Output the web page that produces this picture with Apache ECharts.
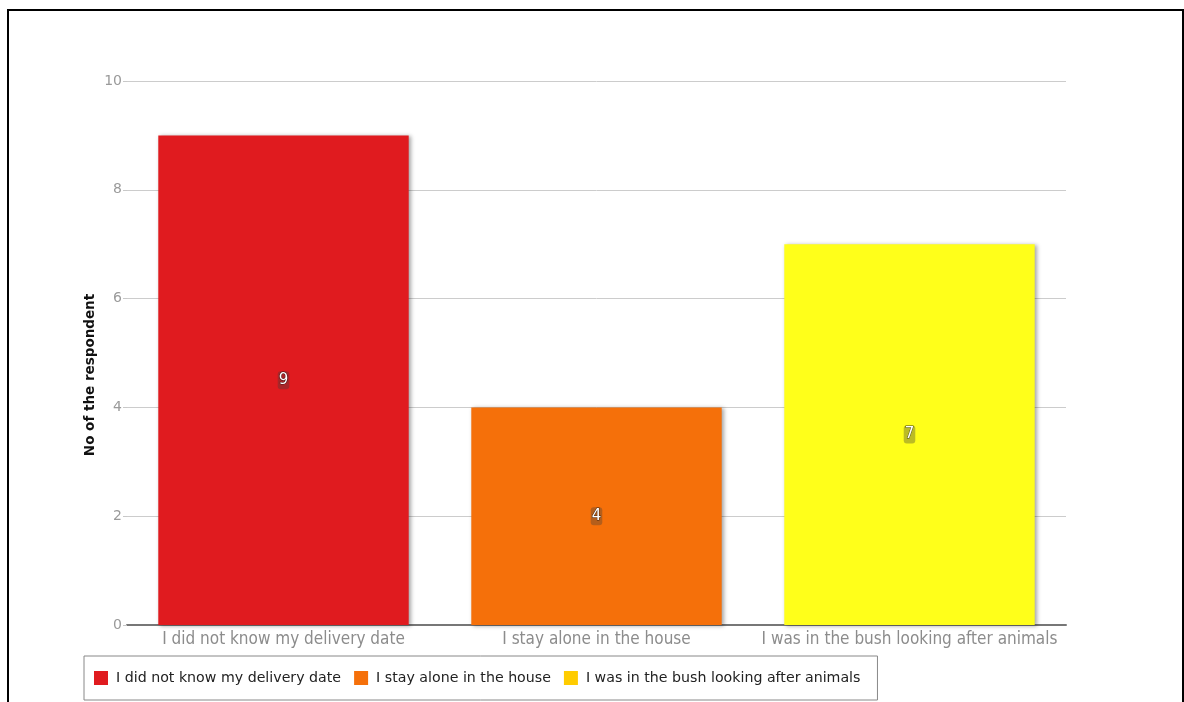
<!DOCTYPE html>
<html>
<head>
<meta charset="utf-8">
<script src="https://cdn.jsdelivr.net/npm/echarts@6/dist/echarts.min.js"></script>
<style>
  html, body { margin: 0; padding: 0; background: #fff; }
  #frame { position: absolute; left: 7px; top: 9px; width: 1177px; height: 720px; border: 2px solid #000; box-sizing: border-box; }
  #chart { position: absolute; left: 0; top: 0; width: 1184px; height: 702px; }
</style>
</head>
<body>
<div id="frame"></div>
<div id="chart"></div>
<script>
const categories = [
  'I did not know my delivery date',
  'I stay alone in the house',
  'I was in the bush looking after animals'
];
const values = [9, 4, 7];
const barColors = ['#e01b1f', '#f5700a', '#ffff1a'];
const legendColors = ['#e01b1f', '#f5700a', '#ffcc00'];
const yTicks = { min: 0, max: 10, interval: 2 };
const yAxisTitle = 'No of the respondent';

const chart = echarts.init(document.getElementById('chart'));

// one series per category, stacked so each bar sits centred in its own slot
const series = categories.map((name, i) => ({
  name: name,
  type: 'bar',
  stack: 'all',
  barWidth: '80%',
  data: categories.map((_, j) => (j === i ? values[i] : '-')),
  itemStyle: {
    color: barColors[i],
    shadowColor: 'rgba(0,0,0,0.35)',
    shadowBlur: 4,
    shadowOffsetX: 2,
    shadowOffsetY: 1
  },
  label: {
    show: true,
    position: 'inside',
    color: '#fff',
    fontFamily: 'DejaVu Sans',
    fontSize: 15,
    backgroundColor: 'rgba(60,60,60,0.35)',
    borderRadius: 3,
    padding: [2, 1, 1, 1],
    textBorderColor: 'rgba(0,0,0,0.6)',
    textBorderWidth: 1
  }
}));

chart.setOption({
  animation: false,
  grid: { left: 127, right: 118, top: 81, bottom: 77, containLabel: false },
  xAxis: {
    type: 'category',
    data: categories,
    axisLine: { lineStyle: { color: '#777', width: 2 } },
    axisTick: { show: false },
    axisLabel: {
      interval: 0,
      color: '#8c8c8c',
      fontSize: 17,
      fontFamily: 'Liberation Sans Narrow, DejaVu Sans Condensed, sans-serif',
      margin: 6
    }
  },
  yAxis: {
    type: 'value',
    min: yTicks.min,
    max: yTicks.max,
    interval: yTicks.interval,
    name: yAxisTitle,
    nameLocation: 'middle',
    nameGap: 30,
    nameMoveOverlap: false,
    nameTextStyle: {
      color: '#111',
      fontWeight: 'bold',
      fontSize: 13.5,
      fontFamily: 'DejaVu Sans',
      padding: [0, 44, 0, 0]
    },
    axisLine: { show: false },
    axisTick: { show: true, length: 4, lineStyle: { color: '#c8c8c8' } },
    axisLabel: { color: '#9a9a9a', fontSize: 14, fontFamily: 'DejaVu Sans', margin: 5 },
    splitLine: { lineStyle: { color: '#cccccc', width: 1 } }
  },
  legend: {
    left: 84,
    top: 656,
    padding: [15, 17, 15, 10],
    itemGap: 13,
    itemWidth: 14,
    itemHeight: 14,
    icon: 'rect',
    borderColor: '#888',
    borderWidth: 1,
    textStyle: {
      color: '#222',
      fontSize: 14.2,
      lineHeight: 14,
      fontFamily: 'DejaVu Sans',
      padding: [0, 0, 0, 3]
    },
    data: categories.map((name, i) => ({ name: name, itemStyle: { color: legendColors[i] } }))
  },
  series: series
});
</script>
</body>
</html>
